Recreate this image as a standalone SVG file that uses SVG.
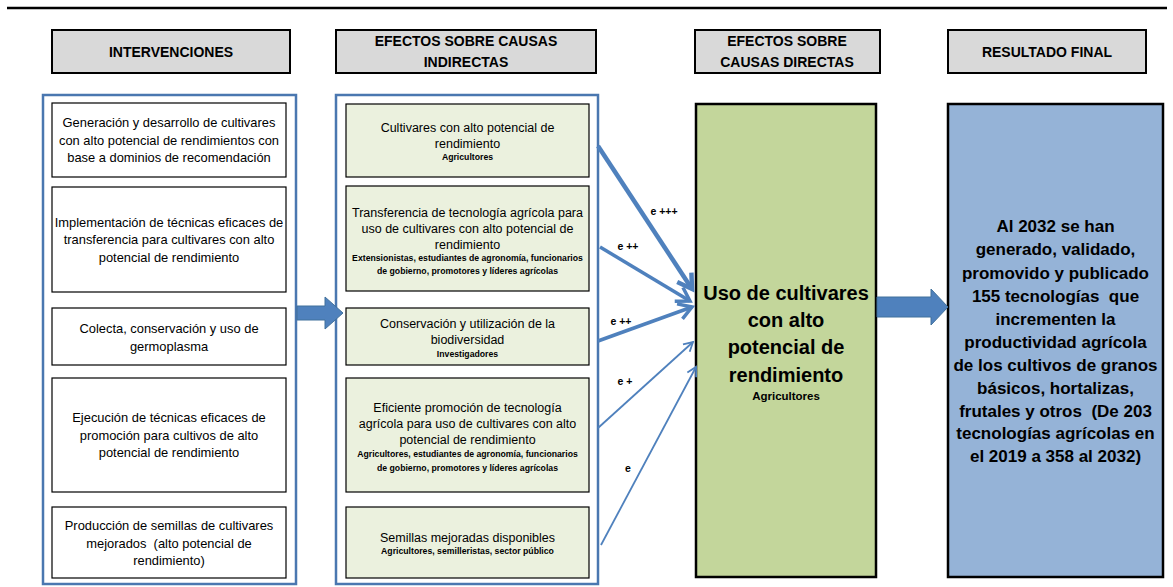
<svg xmlns="http://www.w3.org/2000/svg" width="1173" height="587" viewBox="0 0 1173 587">
<defs>
<style>
text{font-family:"Liberation Sans",Arial,sans-serif;fill:#000;text-anchor:middle;white-space:pre}
.hdr rect{fill:#d9d9d9;stroke:#000;stroke-width:2}
.hdr text{font-size:14px;font-weight:bold}
.outer{fill:#fff;stroke:#4a77b0;stroke-width:2.5}
.ibox{fill:#fff;stroke:#000;stroke-width:1.2}
.ebox{fill:#ebf1de;stroke:#000;stroke-width:1.2}
.t1{font-size:12.9px}
.t2{font-size:12.5px}
.sm{font-size:8.7px;font-weight:bold}
.big{font-size:20px;font-weight:bold}
.res{font-size:17px;font-weight:bold}
.lbl{font-size:10.5px;font-weight:bold}
.blk{fill:#4f81bd;stroke:#41719c;stroke-width:1}
.con{fill:none;stroke:#4f81bd}
</style>
<marker id="ahBig" markerUnits="userSpaceOnUse" markerWidth="26" markerHeight="26" viewBox="0 0 26 26" refX="21" refY="13" orient="auto">
<path d="M7,4.5 L21,13 L7,21.5" fill="none" stroke="#4f81bd" stroke-width="4.5"/>
</marker>
<marker id="ahMid" markerUnits="userSpaceOnUse" markerWidth="26" markerHeight="26" viewBox="0 0 26 26" refX="21" refY="13" orient="auto">
<path d="M8,5 L21,13 L8,21" fill="none" stroke="#4f81bd" stroke-width="3.5"/>
</marker>
<marker id="ahSm" markerUnits="userSpaceOnUse" markerWidth="16" markerHeight="16" viewBox="0 0 16 16" refX="13" refY="8" orient="auto">
<path d="M4,3 L13,8 L4,13" fill="none" stroke="#4f81bd" stroke-width="1.8"/>
</marker>
</defs>

<line x1="7" y1="8" x2="1167" y2="8" stroke="#000" stroke-width="2.5"/>

<g id="hdr-intervenciones" class="hdr"><rect x="52" y="30" width="238" height="43"/><text x="171" y="57">INTERVENCIONES</text></g>
<g id="hdr-indirectas" class="hdr"><rect x="336" y="30" width="260" height="43"/><text x="466" y="46">EFECTOS SOBRE CAUSAS</text><text x="466" y="67">INDIRECTAS</text></g>
<g id="hdr-directas" class="hdr"><rect x="695" y="30" width="185" height="43"/><text x="787" y="46">EFECTOS SOBRE</text><text x="787" y="67">CAUSAS DIRECTAS</text></g>
<g id="hdr-resultado" class="hdr"><rect x="948" y="30" width="198" height="43"/><text x="1047" y="57">RESULTADO FINAL</text></g>

<g id="col-intervenciones">
<rect class="outer" x="43" y="95" width="253" height="489"/>
<g id="int1"><rect class="ibox" x="52" y="103" width="234" height="74"/>
<text class="t1" x="169" y="127">Generación y desarrollo de cultivares</text>
<text class="t1" x="169" y="144.5">con alto potencial de rendimientos con</text>
<text class="t1" x="169" y="162">base a dominios de recomendación</text></g>
<g id="int2"><rect class="ibox" x="52" y="187" width="234" height="105"/>
<text class="t1" x="169" y="226.5">Implementación de técnicas eficaces de</text>
<text class="t1" x="169" y="244">transferencia para cultivares con alto</text>
<text class="t1" x="169" y="261.5">potencial de rendimiento</text></g>
<g id="int3"><rect class="ibox" x="52" y="308" width="234" height="57"/>
<text class="t1" x="169" y="333">Colecta, conservación y uso de</text>
<text class="t1" x="169" y="350.5">germoplasma</text></g>
<g id="int4"><rect class="ibox" x="52" y="378" width="234" height="114"/>
<text class="t1" x="169" y="422">Ejecución de técnicas eficaces de</text>
<text class="t1" x="169" y="439.5">promoción para cultivos de alto</text>
<text class="t1" x="169" y="457">potencial de rendimiento</text></g>
<g id="int5"><rect class="ibox" x="52" y="507" width="234" height="71"/>
<text class="t1" x="169" y="530">Producción de semillas de cultivares</text>
<text class="t1" x="169" y="547.5">mejorados  (alto potencial de</text>
<text class="t1" x="169" y="565">rendimiento)</text></g>
</g>

<g id="col-indirectas">
<rect class="outer" x="336" y="95" width="262" height="489"/>
<g id="ind1"><rect class="ebox" x="346" y="104" width="243" height="73"/>
<text class="t2" x="467.5" y="131.5">Cultivares con alto potencial de</text>
<text class="t2" x="467.5" y="147.5">rendimiento</text>
<text class="sm" x="467.5" y="160">Agricultores</text></g>
<g id="ind2"><rect class="ebox" x="346" y="186" width="243" height="105"/>
<text class="t2" x="467.5" y="216.5">Transferencia de tecnología agrícola para</text>
<text class="t2" x="467.5" y="232.5">uso de cultivares con alto potencial de</text>
<text class="t2" x="467.5" y="248.5">rendimiento</text>
<text class="sm" x="467.5" y="261">Extensionistas, estudiantes de agronomía, funcionarios</text>
<text class="sm" x="467.5" y="274">de gobierno, promotores y líderes agrícolas</text></g>
<g id="ind3"><rect class="ebox" x="346" y="308" width="243" height="57"/>
<text class="t2" x="467.5" y="327.5">Conservación y utilización de la</text>
<text class="t2" x="467.5" y="343.5">biodiversidad</text>
<text class="sm" x="467.5" y="357">Investigadores</text></g>
<g id="ind4"><rect class="ebox" x="346" y="378" width="243" height="114"/>
<text class="t2" x="467.5" y="411.5">Eficiente promoción de tecnología</text>
<text class="t2" x="467.5" y="427.5">agrícola para uso de cultivares con alto</text>
<text class="t2" x="467.5" y="444">potencial de rendimiento</text>
<text class="sm" x="467.5" y="457">Agricultores, estudiantes de agronomía, funcionarios</text>
<text class="sm" x="467.5" y="471">de gobierno, promotores y líderes agrícolas</text></g>
<g id="ind5"><rect class="ebox" x="346" y="507" width="243" height="71"/>
<text class="t2" x="467.5" y="541.5">Semillas mejoradas disponibles</text>
<text class="sm" x="467.5" y="554">Agricultores, semilleristas, sector público</text></g>
</g>

<g id="directa">
<rect x="696" y="104" width="180" height="473" fill="#c3d69b" stroke="#000" stroke-width="2.5"/>
<text class="big" x="786" y="300">Uso de cultivares</text>
<text class="big" x="786" y="327">con alto</text>
<text class="big" x="786" y="354">potencial de</text>
<text class="big" x="786" y="382">rendimiento</text>
<text x="786" y="400" style="font-size:11.5px;font-weight:bold">Agricultores</text>
</g>

<g id="resultado">
<rect x="948" y="104" width="215" height="473" fill="#95b3d7" stroke="#000" stroke-width="2.5"/>
<text class="res" x="1055.5" y="232">Al 2032 se han</text>
<text class="res" x="1055.5" y="255">generado, validado,</text>
<text class="res" x="1055.5" y="279">promovido y publicado</text>
<text class="res" x="1055.5" y="302">155 tecnologías  que</text>
<text class="res" x="1055.5" y="325">incrementen la</text>
<text class="res" x="1055.5" y="348">productividad agrícola</text>
<text class="res" x="1055.5" y="371">de los cultivos de granos</text>
<text class="res" x="1055.5" y="394">básicos, hortalizas,</text>
<text class="res" x="1055.5" y="417">frutales y otros  (De 203</text>
<text class="res" x="1055.5" y="439">tecnologías agrícolas en</text>
<text class="res" x="1055.5" y="462">el 2019 a 358 al 2032)</text>
</g>

<g id="connectors">
<path class="blk" d="M297,306 L325,306 L325,297 L343,313 L325,329 L325,320 L297,320 Z"/>
<path class="blk" d="M877,297 L931,297 L931,289 L948,307 L931,325 L931,317 L877,317 Z"/>
<line class="con" x1="598" y1="146" x2="692" y2="289" stroke-width="4.5" marker-end="url(#ahBig)"/>
<line class="con" x1="600" y1="247" x2="690" y2="301" stroke-width="3.5" marker-end="url(#ahMid)"/>
<line class="con" x1="598" y1="341" x2="692" y2="307" stroke-width="3.5" marker-end="url(#ahMid)"/>
<line class="con" x1="598" y1="428" x2="693" y2="342" stroke-width="1.8" marker-end="url(#ahSm)"/>
<line class="con" x1="601" y1="545" x2="696" y2="367" stroke-width="1.8" marker-end="url(#ahSm)"/>
<text class="lbl" x="664" y="215">e +++</text>
<text class="lbl" x="628" y="250">e ++</text>
<text class="lbl" x="621" y="325">e ++</text>
<text class="lbl" x="625" y="385">e +</text>
<text class="lbl" x="628" y="472">e</text>
</g>
</svg>
